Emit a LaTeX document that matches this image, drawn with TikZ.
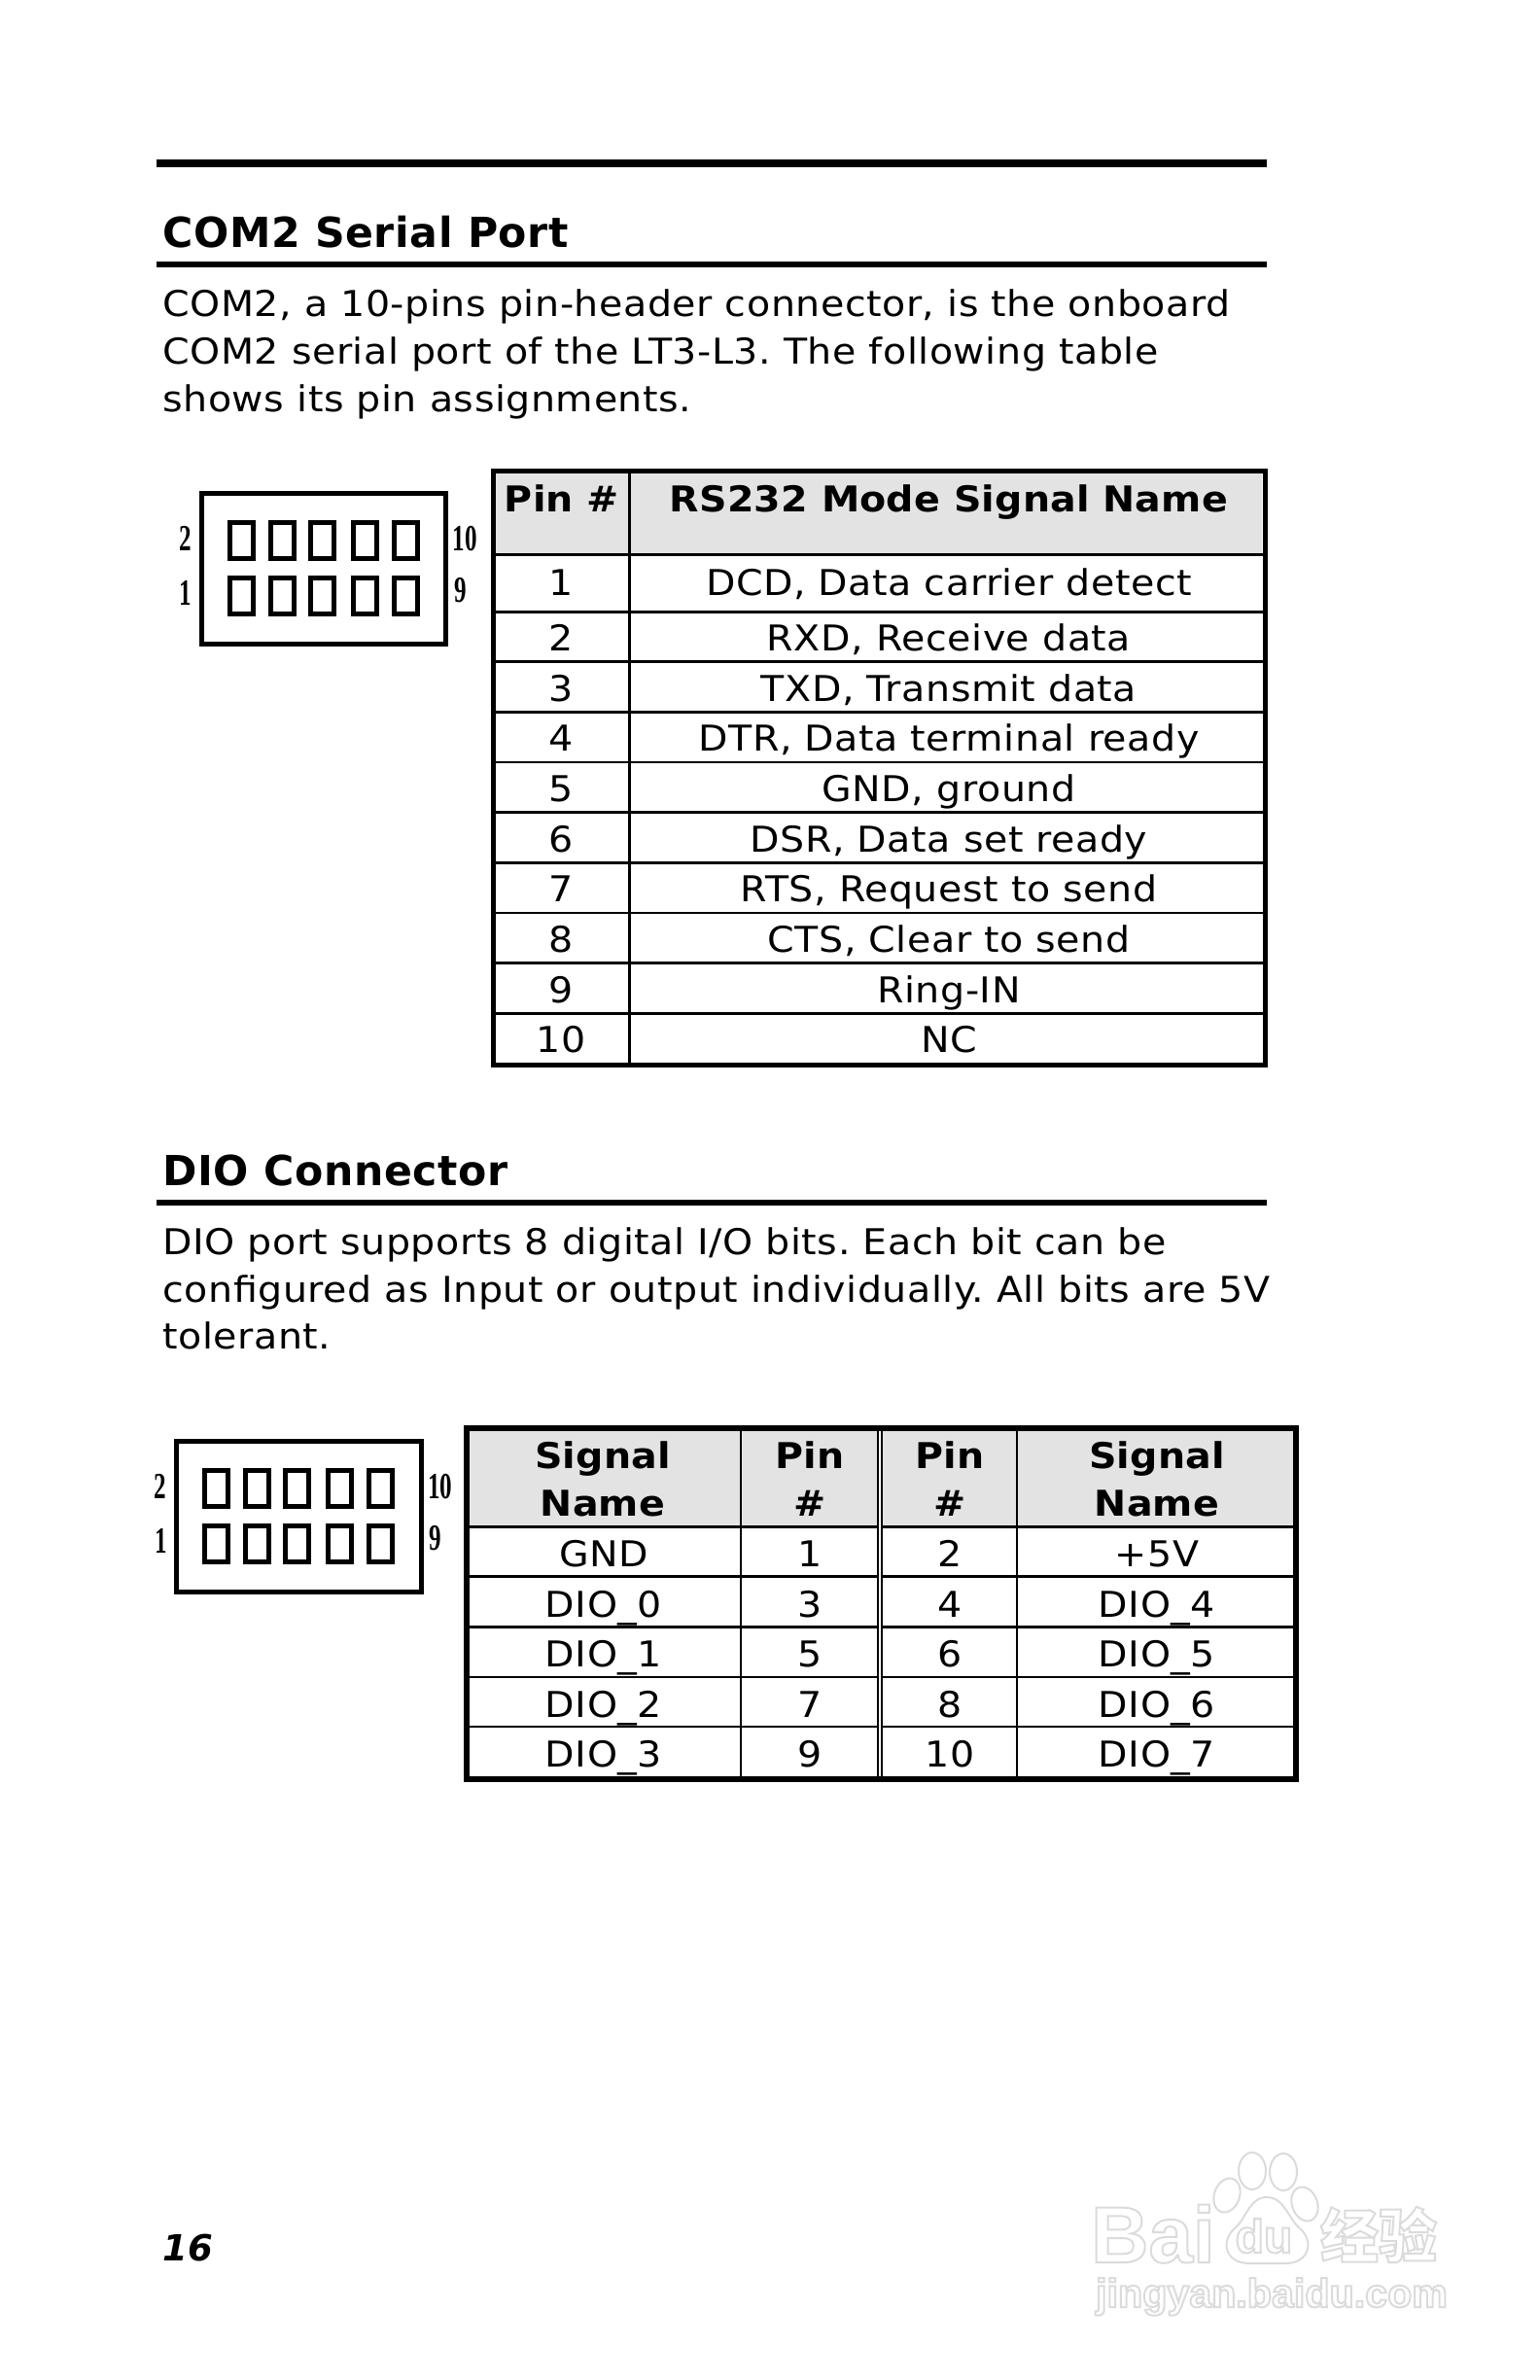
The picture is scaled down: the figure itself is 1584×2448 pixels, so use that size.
\documentclass[tikz,border=0pt]{standalone}
\usepackage{fontspec}
\usepackage{tikz}
\setmainfont{DejaVu Sans}[FakeStretch=1.08,LetterSpace=1.5,BoldFeatures={LetterSpace=0.5}]
\newfontfamily\headfont{DejaVu Sans}[LetterSpace=1.4]
\newfontfamily\pinfont[FakeStretch=0.66]{Liberation Serif}
\newfontfamily\markfont{Liberation Sans}
\newfontfamily\markcjk{Noto Sans CJK SC}
\newcommand{\outlinetext}[1]{\special{pdf:code 1 Tr 1 w 0.86 G}#1\special{pdf:code 0 Tr 0 G}}
\frenchspacing

\tikzset{
	heading/.style = {anchor=base west, inner sep=0, font=\headfont\fontsize{21.3}{24}\selectfont\bfseries},
	bodyline/.style = {anchor=base west, inner sep=0, font=\fontsize{18.3}{24}\selectfont},
	cell/.style = {anchor=base, inner sep=0, font=\fontsize{18.3}{24}\selectfont},
	headcell/.style = {anchor=base, inner sep=0, font=\fontsize{18.3}{24}\selectfont\bfseries},
	pinlabel/.style = {inner sep=0, font=\pinfont\bfseries\fontsize{19}{20}\selectfont},
	pinbox/.style = {draw, line width=2.5pt},
	shellbox/.style = {draw, line width=2.5pt},
	rowline/.style = {line width=1.4pt},
	markline/.style = {draw=black!14, line width=1pt},
	markword/.style = {anchor=base, inner sep=0}
}

\begin{document}
\begin{tikzpicture}[x=0.5pt,y=-0.5pt]
	\useasboundingbox (0,0) rectangle (1584,2448);

	% top of page
	\fill (160.7,164.3) rectangle (1303,172);
	\node[heading] (comhead) at (167,254.3) {COM2 Serial Port};
	\fill (160.7,269.3) rectangle (1303,275);
	\node[bodyline] (comone) at (167,325) {COM2, a 10-pins pin-header connector, is the onboard};
	\node[bodyline] (comtwo) at (167,374) {COM2 serial port of the LT3-L3. The following table};
	\node[bodyline] (comthree) at (167,423) {shows its pin assignments.};

	% first connector
	\draw[shellbox] (207.2,507) rectangle (458.7,662);
	\draw[pinbox] (236.2,537.5) rectangle (260.2,574.5);
	\draw[pinbox] (278.2,537.5) rectangle (302.2,574.5);
	\draw[pinbox] (319.2,537.5) rectangle (343.2,574.5);
	\draw[pinbox] (363.2,537.5) rectangle (387.2,574.5);
	\draw[pinbox] (405.2,537.5) rectangle (429.2,574.5);
	\draw[pinbox] (236.2,594.2) rectangle (260.2,631.5);
	\draw[pinbox] (278.2,594.2) rectangle (302.2,631.5);
	\draw[pinbox] (319.2,594.2) rectangle (343.2,631.5);
	\draw[pinbox] (363.2,594.2) rectangle (387.2,631.5);
	\draw[pinbox] (405.2,594.2) rectangle (429.2,631.5);
	\node[pinlabel] (comtwolab) at (190.7,554) {2};
	\node[pinlabel] (comonelab) at (191,610) {1};
	\node[pinlabel] (comtenlab) at (478.4,554) {10};
	\node[pinlabel] (comninelab) at (473.7,606.7) {9};

	% first table
	\fill[black!11] (510,487) rectangle (1298,569);
	\draw[rowline] (647.6,484.5) -- (647.6,1095.5);
	\draw[rowline] (507.7,570.6) -- (1301.5,570.6);
	\draw[rowline] (507.7,629.3) -- (1301.5,629.3);
	\draw[rowline] (507.7,680.7) -- (1301.5,680.7);
	\draw[rowline] (507.7,732.4) -- (1301.5,732.4);
	\draw[rowline] (507.7,784) -- (1301.5,784);
	\draw[rowline] (507.7,835.7) -- (1301.5,835.7);
	\draw[rowline] (507.7,887.3) -- (1301.5,887.3);
	\draw[rowline] (507.7,939) -- (1301.5,939);
	\draw[rowline] (507.7,990.7) -- (1301.5,990.7);
	\draw[rowline] (507.7,1042.3) -- (1301.5,1042.3);
	\draw[line width=2.6pt] (507.7,484.5) rectangle (1301.5,1095.5);
	\node[headcell] (pinhead) at (578,526.4) {Pin \#};
	\node[headcell] (signalhead) at (976,526.4) {RS232 Mode Signal Name};
	\node[cell] (pina) at (577,612) {1};
	\node[cell] (siga) at (976,612) {DCD, Data carrier detect};
	\node[cell] (pinb) at (577,669.5) {2};
	\node[cell] (sigb) at (976,669.5) {RXD, Receive data};
	\node[cell] (pinc) at (577,721.2) {3};
	\node[cell] (sigc) at (976,721.2) {TXD, Transmit data};
	\node[cell] (pind) at (577,772.8) {4};
	\node[cell] (sigd) at (976,772.8) {DTR, Data terminal ready};
	\node[cell] (pine) at (577,824.5) {5};
	\node[cell] (sige) at (976,824.5) {GND, ground};
	\node[cell] (pinf) at (577,876.1) {6};
	\node[cell] (sigf) at (976,876.1) {DSR, Data set ready};
	\node[cell] (ping) at (577,927.8) {7};
	\node[cell] (sigg) at (976,927.8) {RTS, Request to send};
	\node[cell] (pinh) at (577,979.5) {8};
	\node[cell] (sigh) at (976,979.5) {CTS, Clear to send};
	\node[cell] (pini) at (577,1031.1) {9};
	\node[cell] (sigi) at (976,1031.1) {Ring-IN};
	\node[cell] (pinj) at (577,1082.8) {10};
	\node[cell] (sigj) at (976,1082.8) {NC};

	% second section
	\node[heading] (diohead) at (167,1219.3) {DIO Connector};
	\fill (160.7,1234) rectangle (1303,1240);
	\node[bodyline] (dioone) at (167,1290) {DIO port supports 8 digital I/O bits. Each bit can be};
	\node[bodyline] (diotwo) at (167,1339) {configured as Input or output individually. All bits are 5V};
	\node[bodyline] (diothree) at (167,1387.7) {tolerant.};

	% second connector
	\draw[shellbox] (181.5,1482) rectangle (433,1637);
	\draw[pinbox] (210.5,1512.5) rectangle (234.5,1549.5);
	\draw[pinbox] (252.5,1512.5) rectangle (276.5,1549.5);
	\draw[pinbox] (293.5,1512.5) rectangle (317.5,1549.5);
	\draw[pinbox] (337.5,1512.5) rectangle (361.5,1549.5);
	\draw[pinbox] (379.5,1512.5) rectangle (403.5,1549.5);
	\draw[pinbox] (210.5,1569.2) rectangle (234.5,1606.5);
	\draw[pinbox] (252.5,1569.2) rectangle (276.5,1606.5);
	\draw[pinbox] (293.5,1569.2) rectangle (317.5,1606.5);
	\draw[pinbox] (337.5,1569.2) rectangle (361.5,1606.5);
	\draw[pinbox] (379.5,1569.2) rectangle (403.5,1606.5);
	\node[pinlabel] (diotwolab) at (165,1529) {2};
	\node[pinlabel] (dioonelab) at (165.3,1585) {1};
	\node[pinlabel] (diotenlab) at (452.7,1529) {10};
	\node[pinlabel] (dioninelab) at (448,1581.7) {9};

	% second table
	\fill[black!11] (482,1471) rectangle (902,1569);
	\fill[black!11] (907,1471) rectangle (1330,1569);
	\draw[line width=1pt] (762,1468.5) -- (762,1829.7);
	\draw[line width=1pt] (902.5,1468.5) -- (902.5,1829.7);
	\draw[line width=1pt] (907,1468.5) -- (907,1829.7);
	\draw[line width=1pt] (1045.7,1468.5) -- (1045.7,1829.7);
	\draw[rowline] (479.5,1570.4) -- (901.5,1570.4);
	\draw[rowline] (908,1570.4) -- (1333,1570.4);
	\draw[rowline] (479.5,1621.5) -- (901.5,1621.5);
	\draw[rowline] (908,1621.5) -- (1333,1621.5);
	\draw[rowline] (479.5,1673.3) -- (901.5,1673.3);
	\draw[rowline] (908,1673.3) -- (1333,1673.3);
	\draw[rowline] (479.5,1725) -- (901.5,1725);
	\draw[rowline] (908,1725) -- (1333,1725);
	\draw[rowline] (479.5,1776) -- (901.5,1776);
	\draw[rowline] (908,1776) -- (1333,1776);
	\draw[line width=3pt] (479.5,1468.5) rectangle (1333,1829.7);
	\node[headcell] (signala) at (620,1510) {Signal};
	\node[headcell] (namea) at (620,1559.3) {Name};
	\node[headcell] (pinheada) at (833,1510) {Pin};
	\node[headcell] (hasha) at (833,1559.3) {\#};
	\node[headcell] (pinheadb) at (977,1510) {Pin};
	\node[headcell] (hashb) at (977,1559.3) {\#};
	\node[headcell] (signalb) at (1190,1510) {Signal};
	\node[headcell] (nameb) at (1190,1559.3) {Name};
	\node[cell] (gnd) at (621,1611.7) {GND};
	\node[cell] (numa) at (833,1611.7) {1};
	\node[cell] (numb) at (977,1611.7) {2};
	\node[cell] (vcc) at (1190,1611.7) {+5V};
	\node[cell] (diozero) at (621,1663) {DIO\_0};
	\node[cell] (numc) at (833,1663) {3};
	\node[cell] (numd) at (977,1663) {4};
	\node[cell] (diofour) at (1190,1663) {DIO\_4};
	\node[cell] (dioa) at (621,1714.3) {DIO\_1};
	\node[cell] (nume) at (833,1714.3) {5};
	\node[cell] (numf) at (977,1714.3) {6};
	\node[cell] (diofive) at (1190,1714.3) {DIO\_5};
	\node[cell] (diob) at (621,1766) {DIO\_2};
	\node[cell] (numg) at (833,1766) {7};
	\node[cell] (numh) at (977,1766) {8};
	\node[cell] (diosix) at (1190,1766) {DIO\_6};
	\node[cell] (dioc) at (621,1817.3) {DIO\_3};
	\node[cell] (numi) at (833,1817.3) {9};
	\node[cell] (numj) at (977,1817.3) {10};
	\node[cell] (dioseven) at (1190,1817.3) {DIO\_7};

	% page number
	\node[anchor=base west, inner sep=0, font=\headfont\fontsize{18.5}{20}\selectfont\bfseries\itshape] (pagenum) at (167,2325) {16};

	% watermark
	\draw[markline] (1262,2258) ellipse [x radius=13, y radius=18, rotate=-20];
	\draw[markline] (1288,2233) ellipse [x radius=14, y radius=19];
	\draw[markline] (1320,2234) ellipse [x radius=14, y radius=19];
	\draw[markline] (1342,2267) ellipse [x radius=13, y radius=18, rotate=20];
	\draw[markline] (1303,2260) .. controls (1285,2260) and (1282,2282) .. (1270,2292) .. controls (1255,2305) and (1260,2328) .. (1285,2328) -- (1322,2328) .. controls (1347,2328) and (1352,2305) .. (1337,2292) .. controls (1325,2282) and (1321,2260) .. (1303,2260);
	\node[markword, font=\markfont\bfseries\fontsize{41}{41}\selectfont] (markbai) at (1186,2327) {\outlinetext{Bai}};
	\node[markword, font=\markfont\bfseries\fontsize{24}{24}\selectfont] (markdu) at (1300,2317) {\outlinetext{du}};
	\node[markword, font=\markcjk\bfseries\fontsize{30}{30}\selectfont] (markcn) at (1418,2322) {\outlinetext{经验}};
	\node[markword, font=\markfont\bfseries\fontsize{20.6}{22}\selectfont] (markurl) at (1308,2373) {\outlinetext{jingyan.baidu.com}};
\end{tikzpicture}
\end{document}
